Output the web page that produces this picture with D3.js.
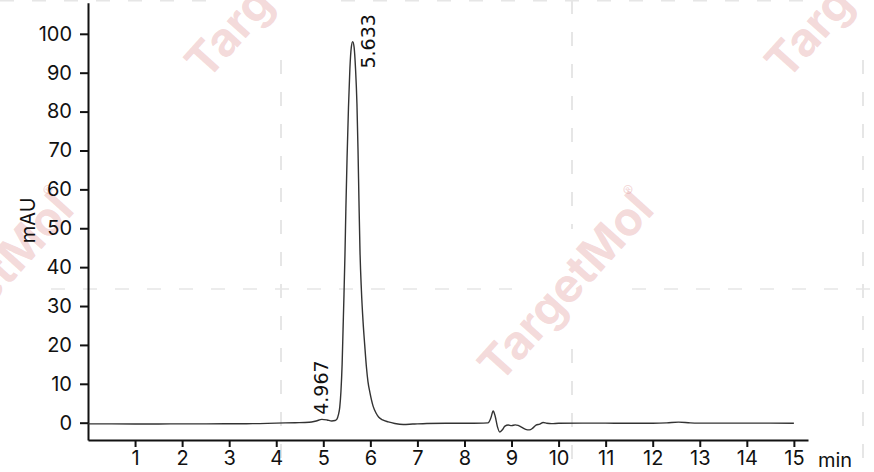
<!DOCTYPE html>
<html>
<head>
<meta charset="utf-8">
<script src="https://cdn.jsdelivr.net/npm/d3@7"></script>
<style>
  html, body { margin: 0; padding: 0; background: #fff; }
  svg { display: block; }
</style>
</head>
<body>
<svg id="chart" width="874" height="472"></svg>
<script>
// ---- data ----
const rtMin = [0.0,0.5,1.0,1.5,2.0,2.5,3.0,3.5,4.0,4.4,4.7,4.85,4.97,5.08,5.18,5.25,5.29,5.32,5.35,5.375,5.40,5.42,5.44,5.46,5.48,5.505,5.535,5.565,5.595,5.625,5.655,5.685,5.715,5.738,5.758,5.78,5.81,5.845,5.88,5.915,5.95,5.99,6.06,6.12,6.18,6.26,6.38,6.52,6.70,6.90,7.20,7.6,8.0,8.40,8.50,8.56,8.61,8.65,8.70,8.75,8.80,8.86,8.93,9.0,9.08,9.14,9.22,9.30,9.38,9.45,9.52,9.60,9.67,9.75,9.85,10.0,10.5,11.0,11.5,12.0,12.3,12.55,12.8,13.0,13.5,14.0,14.5,15.0];
const absorbance = [-0.30,-0.30,-0.32,-0.33,-0.30,-0.30,-0.28,-0.25,-0.10,0.00,0.10,0.45,0.85,0.70,0.45,0.55,0.9,2.0,4.0,8,15,24,33,43,55,68,81,91,96.5,98.0,96.5,91,82,70,57,44,34,26,20,14.5,10.5,7.8,4.2,2.5,1.4,0.7,0.2,-0.2,-0.45,-0.35,-0.20,-0.15,-0.15,-0.10,-0.05,1.2,3.0,1.8,-1.0,-2.4,-1.9,-0.9,-0.6,-0.75,-0.55,-0.7,-1.2,-1.7,-1.85,-1.4,-0.6,-0.35,0.05,-0.15,-0.25,-0.15,-0.10,-0.12,-0.15,-0.15,-0.05,0.15,-0.05,-0.10,-0.12,-0.12,-0.12,-0.15];
const peakLabels = ["4.967", "5.633"];
const peakTimes = [4.967, 5.633];
const peakHeights = [0.87, 98.0];
const xTicks = [1,2,3,4,5,6,7,8,9,10,11,12,13,14,15];
const yTicks = [0,10,20,30,40,50,60,70,80,90,100];
const xUnit = "min";
const yUnit = "mAU";
const watermarkText = "TargetMol";

// ---- layout ----
const W = 874, H = 472;
const svg = d3.select("#chart");
svg.append("rect").attr("width", W).attr("height", H).attr("fill", "#fff");

// watermark layer (background)
const wm = svg.append("g");
const gridColor = "#e6e6e6";
const vLines = [281, 572, 863];
const hLines = [0, 289];
const holes = [[281, 0], [863, 0], [572, 289], [-9, 289]];
const gapR = 60;
function segments(fixed, isVertical, len) {
  const cuts = holes.filter(h => (isVertical ? h[0] : h[1]) === fixed)
                    .map(h => isVertical ? h[1] : h[0]).sort((a,b)=>a-b);
  const segs = []; let start = 0;
  cuts.forEach(c => { if (c - gapR > start) segs.push([start, c - gapR]); start = Math.max(start, c + gapR); });
  if (start < len) segs.push([start, len]);
  return segs;
}
vLines.forEach(xv => segments(xv, true, H).forEach(s => {
  wm.append("line").attr("x1", xv).attr("x2", xv).attr("y1", s[0]).attr("y2", s[1])
    .attr("stroke", gridColor).attr("stroke-width", 2).attr("stroke-dasharray", "14,18");
}));
hLines.forEach(yv => segments(yv, false, W).forEach(s => {
  wm.append("line").attr("y1", yv).attr("y2", yv).attr("x1", s[0]).attr("x2", s[1])
    .attr("stroke", gridColor).attr("stroke-width", yv === 0 ? 3 : 1.6).attr("stroke-dasharray", "14,18");
}));
const wmCenters = [[566, 287], [273, -16], [853, -16], [-14, 287]];
wmCenters.forEach(c => {
  const g = wm.append("g").attr("transform", `translate(${c[0]},${c[1]}) rotate(-48)`);
  g.append("text").attr("x", 0).attr("y", 16).attr("text-anchor", "middle")
    .attr("font-family", "Inter, 'Open Sans', sans-serif").attr("font-weight", 700)
    .attr("font-size", 47).attr("fill", "#dc8c8c").attr("fill-opacity", 0.32)
    .text(watermarkText);
  g.append("text").attr("x", 114).attr("y", -12).attr("text-anchor", "middle")
    .attr("font-family", "Inter, sans-serif").attr("font-size", 16)
    .attr("fill", "#dc8c8c").attr("fill-opacity", 0.32).text("®");
});

// scales
const x = d3.scaleLinear().domain([0, 15.3]).range([88, 808]);
const y = d3.scaleLinear().domain([-4.45, 108]).range([440, 2.7]);

const tickFont = "Inter, 'Noto Sans', sans-serif";

// axes
const xAxis = svg.append("g").attr("transform", `translate(0,${y.range()[0]})`)
  .call(d3.axisBottom(x).tickValues(xTicks).tickSize(7).tickSizeOuter(0).tickPadding(4).tickFormat(d3.format("d")));
const yAxis = svg.append("g").attr("transform", `translate(${x.range()[0]},0)`)
  .call(d3.axisLeft(y).tickValues(yTicks).tickSize(8).tickSizeOuter(0).tickPadding(8).tickFormat(d3.format("d")));
[xAxis, yAxis].forEach(a => {
  a.select(".domain").attr("stroke", "#111").attr("stroke-width", 2);
  a.selectAll(".tick line").attr("stroke", "#111").attr("stroke-width", 2);
  a.selectAll(".tick text").attr("font-family", tickFont).attr("font-size", 20).attr("fill", "#111");
});

svg.append("text").attr("x", x.range()[1] + 10).attr("y", 467)
  .attr("font-family", tickFont).attr("font-size", 20).attr("fill", "#111").text(xUnit);
svg.append("text").attr("transform", `translate(35,${(y(0) + y(100)) / 2 - 8}) rotate(-90)`)
  .attr("text-anchor", "middle").attr("font-family", tickFont).attr("font-size", 20).attr("fill", "#111").text(yUnit);

// signal trace
const line = d3.line().x((d, i) => x(rtMin[i])).y((d, i) => y(absorbance[i])).curve(d3.curveMonotoneX);
svg.append("path").attr("d", line(absorbance)).attr("fill", "none")
  .attr("stroke", "#333").attr("stroke-width", 1.4).attr("stroke-linejoin", "round");

// peak labels
const labelOffsets = [[6.5, -4.5], [22, 27]];
peakLabels.forEach((lab, i) => {
  const px = x(peakTimes[i]) + labelOffsets[i][0];
  const py = y(peakHeights[i]) + labelOffsets[i][1];
  svg.append("text").attr("transform", `translate(${px},${py}) rotate(-90)`)
    .attr("font-family", "'DejaVu Sans', sans-serif").attr("font-size", 19).attr("fill", "#111")
    .text(lab);
});
</script>
</body>
</html>
